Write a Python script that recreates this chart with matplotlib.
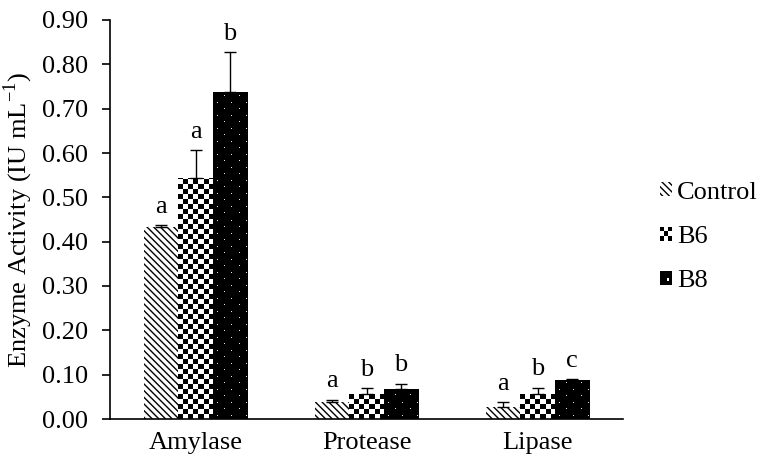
import numpy as np
import matplotlib
matplotlib.use("Agg")
import matplotlib.pyplot as plt
from matplotlib.patches import Patch, Rectangle

# ---------- data ----------
enzymes = ["Amylase", "Protease", "Lipase"]
groups = ["Control", "B6", "B8"]

control = [0.433, 0.038, 0.027]
b6 = [0.543, 0.056, 0.056]
b8 = [0.738, 0.068, 0.087]

control_err = [0.004, 0.005, 0.011]
b6_err = [0.063, 0.013, 0.014]
b8_err = [0.089, 0.011, 0.003]

letters_control = ["a", "a", "a"]
letters_b6 = ["a", "b", "b"]
letters_b8 = ["b", "b", "c"]

plt.rcParams["font.family"] = ["Liberation Serif", "DejaVu Serif"]
plt.rcParams["mathtext.fontset"] = "custom"
plt.rcParams["mathtext.rm"] = "Liberation Serif"
plt.rcParams["hatch.linewidth"] = 1.0
FS = 19
HATCH = "\\" * 5

fig = plt.figure(figsize=(7.63, 4.65), dpi=100)
ax = fig.add_axes([110 / 763, 46 / 465, 513 / 763, 399 / 465])

x = np.arange(len(enzymes))
w = 0.2
ax.set_xlim(-0.5, 2.5)
ax.set_ylim(0, 0.9)


def checker(ny, nx):
    return (np.add.outer(np.arange(ny), np.arange(nx)) % 2).astype(float)


def dots(ny, nx):
    # white single-pixel dots on black, staggered rows
    a = np.zeros((ny, nx))
    for r in range(ny):
        if r % 13 == 3:
            a[r, 4::14] = 0.9
        elif r % 13 == 10:
            a[r, 11::14] = 0.9
    return a


def texture_fill(bars, pattern, cell_px):
    # pixel-sized texture drawn inside each bar (clipped to the bar)
    px = ax.transData.transform([(0, 0), (1, 1)])
    ppx, ppy = px[1] - px[0]
    for b in bars:
        wpx = b.get_width() * ppx
        hpx = b.get_height() * ppy
        nx = int(np.ceil(wpx / cell_px))
        ny = int(np.ceil(hpx / cell_px))
        arr = pattern(ny, nx)
        im = ax.imshow(arr, cmap="gray", vmin=0, vmax=1, interpolation="nearest",
                       origin="lower", aspect="auto", zorder=1.5,
                       extent=(b.get_x(), b.get_x() + nx * cell_px / ppx,
                               0, ny * cell_px / ppy))
        im.set_clip_path(b)


ctrl_bars = ax.bar(x - w, control, w, facecolor="white", edgecolor="black",
                   linewidth=0, hatch=HATCH, zorder=1)
b6_bars = ax.bar(x, b6, w, facecolor="white", linewidth=0, zorder=1)
b8_bars = ax.bar(x + w, b8, w, facecolor="black", linewidth=0, zorder=1)
texture_fill(b6_bars, checker, 5.0)
texture_fill(b8_bars, dots, 1.0)
ax.set_ylim(0, 0.9)
ax.set_xlim(-0.5, 2.5)

for off, vals, err, lets in [(-w, control, control_err, letters_control),
                             (0, b6, b6_err, letters_b6),
                             (w, b8, b8_err, letters_b8)]:
    ax.errorbar(x + off, vals, yerr=[np.zeros(len(vals)), err], fmt="none",
                ecolor="black", elinewidth=1, capsize=4, capthick=1, zorder=3)
    for xi, v, e, l in zip(x + off, vals, err, lets):
        ax.annotate(l, (xi, v + e), xytext=(0, 9), textcoords="offset points",
                    ha="center", va="baseline", fontsize=FS)

ax.set_xticks(x)
ax.set_xticklabels(enzymes, fontsize=FS)
ax.set_yticks(np.arange(0, 0.91, 0.1))
ax.set_yticklabels([f"{v:.2f}" for v in np.arange(0, 0.91, 0.1)], fontsize=FS)
ax.tick_params(axis="x", length=0, pad=9)
ax.tick_params(axis="y", length=6, width=1.2, direction="out", pad=10)
for s in ["top", "right"]:
    ax.spines[s].set_visible(False)
for s in ["left", "bottom"]:
    ax.spines[s].set_linewidth(1.2)
ax.set_ylabel("Enzyme Activity (IU mL$^{-1}$)", fontsize=FS, labelpad=5)


class CheckerHandler:
    def legend_artist(self, legend, orig_handle, fontsize, handlebox):
        x0, y0 = -handlebox.xdescent, -handlebox.ydescent
        hw, hh = handlebox.width, handlebox.height
        n = 3
        r = None
        for i in range(n):
            for j in range(n):
                if (i + j) % 2 == 0:
                    r = Rectangle((x0 + i * hw / n, y0 + j * hh / n), hw / n, hh / n,
                                  facecolor="black", linewidth=0,
                                  transform=handlebox.get_transform())
                    handlebox.add_artist(r)
        return r


class DotHandler:
    def legend_artist(self, legend, orig_handle, fontsize, handlebox):
        x0, y0 = -handlebox.xdescent, -handlebox.ydescent
        hw, hh = handlebox.width, handlebox.height
        tr = handlebox.get_transform()
        r = Rectangle((x0, y0), hw, hh, facecolor="black", linewidth=0, transform=tr)
        handlebox.add_artist(r)
        handlebox.add_artist(Rectangle((x0 + 0.55 * hw, y0 + 0.3 * hh), 0.2 * hw, 0.2 * hh,
                                       facecolor="white", linewidth=0, transform=tr))
        return r


h_ctrl = Patch(facecolor="white", edgecolor="black", linewidth=0, hatch=HATCH)
h_b6 = Patch(facecolor="white")
h_b8 = Patch(facecolor="black")
fig.legend([h_ctrl, h_b6, h_b8], groups, loc="center left",
           bbox_to_anchor=(660 / 763, 1 - 237 / 465), frameon=False, fontsize=FS,
           handlelength=0.45, handleheight=0.45, handletextpad=0.2,
           labelspacing=0.85, borderpad=0, borderaxespad=0,
           handler_map={h_b6: CheckerHandler(), h_b8: DotHandler()})

fig.savefig("out.png", dpi=100)
